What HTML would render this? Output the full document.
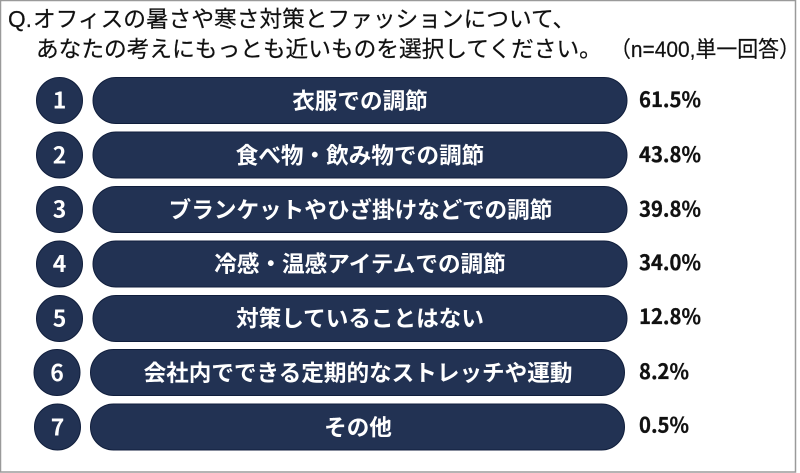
<!DOCTYPE html>
<html lang="ja">
<head>
<meta charset="utf-8">
<style>
html,body{margin:0;padding:0;background:#fff;width:800px;height:473px;overflow:hidden}
svg{display:block}
text{font-family:"Liberation Sans","Noto Sans CJK JP",sans-serif}
.t{font-size:22.7px;fill:#111;stroke:#111;stroke-width:.2}
.l{font-size:22.6px;font-weight:700;fill:#fff;text-anchor:middle;font-family:"Noto Sans CJK JP",sans-serif}
.n{font-size:23px;font-weight:700;fill:#fff;text-anchor:middle;font-family:"Noto Sans CJK JP",sans-serif}
.p{font-size:21px;font-weight:700;fill:#111;stroke:#111;stroke-width:.3;font-family:"Noto Sans CJK JP",sans-serif}
.b{fill:#223253;stroke:#101e3c;stroke-width:1}
</style>
</head>
<body>
<svg width="800" height="473" viewBox="0 0 800 473" xmlns="http://www.w3.org/2000/svg">
<rect x="0.5" y="0.5" width="795" height="471.500" fill="#fff" stroke="#9a9a9a" stroke-width="1.5"/>
<text class="t" x="8" y="27" font-size="23">Q.</text>
<text class="t" x="33" y="27">オフィスの暑さや寒さ対策とファッションについて、</text>
<text class="t" x="36" y="57">あなたの考えにもっとも近いものを選択してください。</text>
<text class="t" x="610" y="57" style="font-size:22px" textLength="190" lengthAdjust="spacingAndGlyphs">（n=400,単一回答）</text>

<circle class="b" cx="59.5" cy="100.5" r="23"/>
<rect class="b" x="93" y="77.5" width="534" height="46" rx="23"/>
<text class="n" x="59.5" y="108.500">1</text>
<text class="l" x="360" y="109">衣服での調節</text>
<text class="p" x="639" y="107" textLength="62" lengthAdjust="spacingAndGlyphs">61.5%</text>

<circle class="b" cx="59.5" cy="155" r="23"/>
<rect class="b" x="93" y="132" width="534" height="46" rx="23"/>
<text class="n" x="59.5" y="163.500">2</text>
<text class="l" x="360" y="163.500">食べ物・飲み物での調節</text>
<text class="p" x="639" y="162" textLength="62" lengthAdjust="spacingAndGlyphs">43.8%</text>

<circle class="b" cx="59.5" cy="209.500" r="23"/>
<rect class="b" x="93" y="186.500" width="534" height="46" rx="23"/>
<text class="n" x="59.500" y="217.500">3</text>
<text class="l" x="360.500" y="218">ブランケットやひざ掛けなどでの調節</text>
<text class="p" x="639" y="216.500" textLength="62" lengthAdjust="spacingAndGlyphs">39.8%</text>

<circle class="b" cx="59.5" cy="264" r="23"/>
<rect class="b" x="93" y="241" width="534" height="46" rx="23"/>
<text class="n" x="59.500" y="272">4</text>
<text class="l" x="360" y="272">冷感・温感アイテムでの調節</text>
<text class="p" x="639" y="270" textLength="62" lengthAdjust="spacingAndGlyphs">34.0%</text>

<circle class="b" cx="59.5" cy="318.500" r="23"/>
<rect class="b" x="93" y="295.500" width="534" height="46" rx="23"/>
<text class="n" x="59.500" y="326.500">5</text>
<text class="l" x="360" y="326.500">対策していることはない</text>
<text class="p" x="639" y="324" textLength="62" lengthAdjust="spacingAndGlyphs">12.8%</text>

<circle class="b" cx="57" cy="372.500" r="23"/>
<rect class="b" x="90.500" y="349.500" width="534" height="46" rx="23"/>
<text class="n" x="57" y="381">6</text>
<text class="l" x="358" y="381">会社内でできる定期的なストレッチや運動</text>
<text class="p" x="639" y="379" textLength="50" lengthAdjust="spacingAndGlyphs">8.2%</text>

<circle class="b" cx="57.500" cy="427" r="23"/>
<rect class="b" x="90.500" y="404" width="534" height="46" rx="23"/>
<text class="n" x="57.500" y="435.500">7</text>
<text class="l" x="358" y="435.500">その他</text>
<text class="p" x="639" y="432.500" textLength="50" lengthAdjust="spacingAndGlyphs">0.5%</text>
</svg>
</body>
</html>
